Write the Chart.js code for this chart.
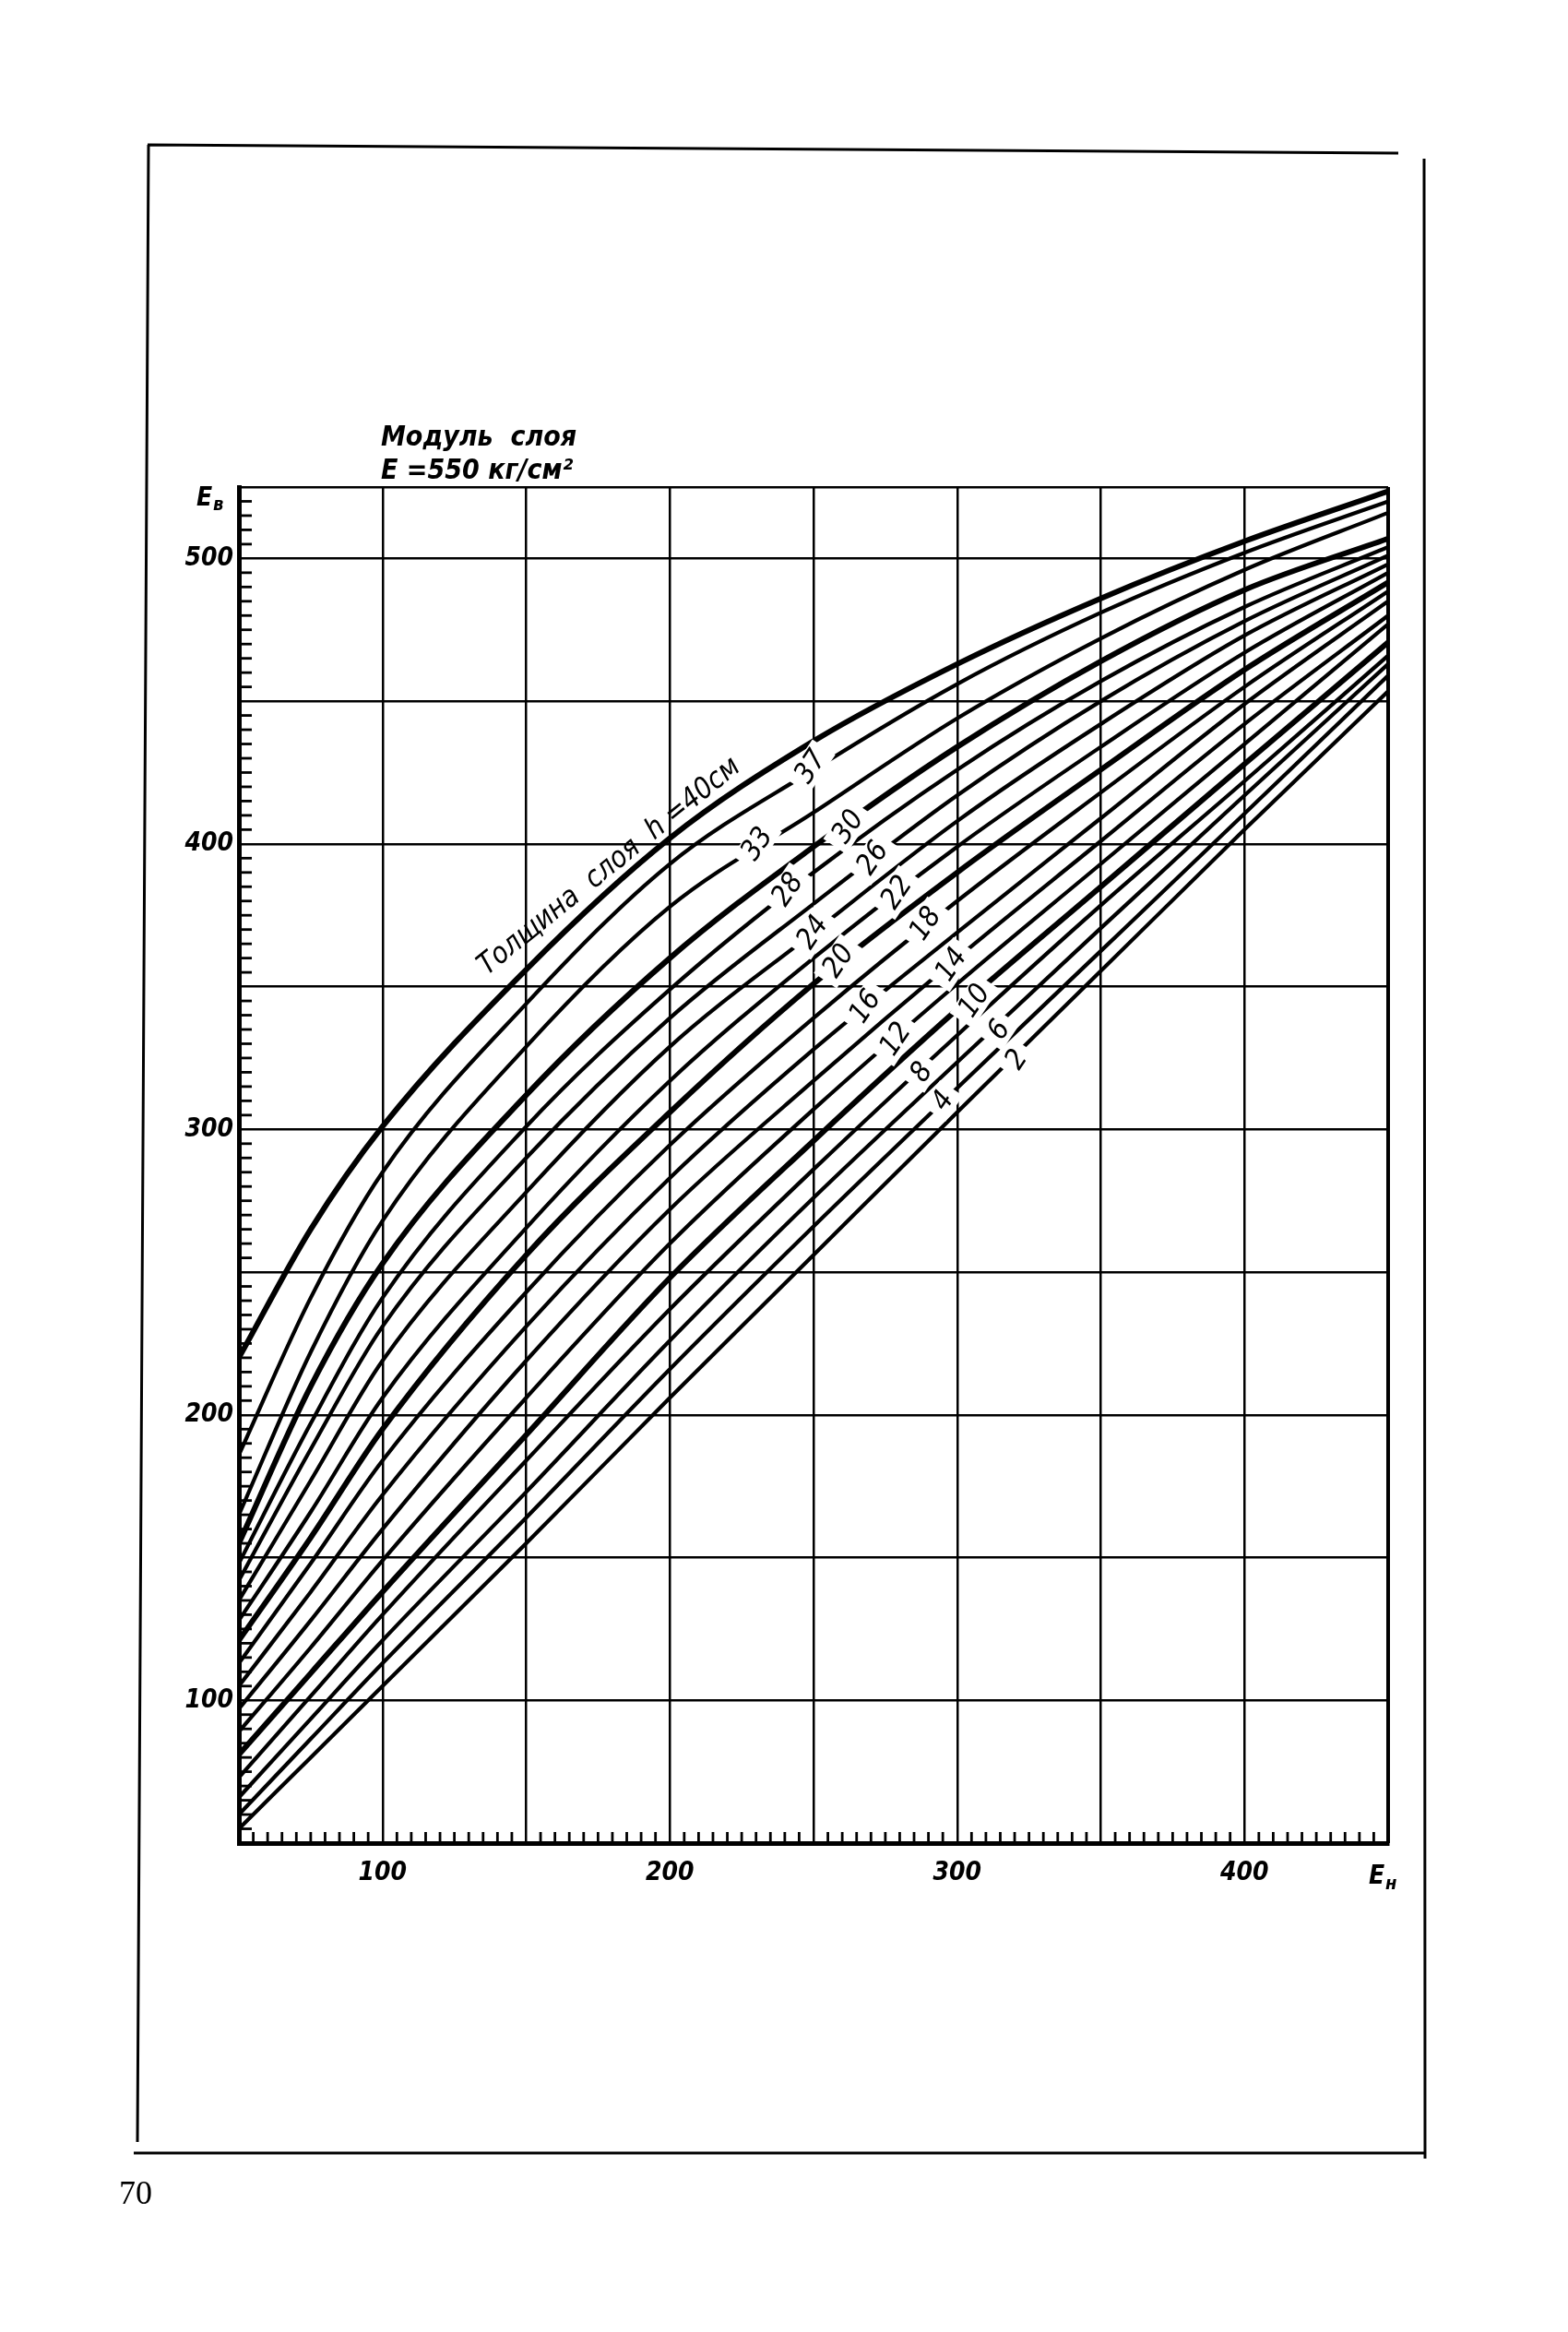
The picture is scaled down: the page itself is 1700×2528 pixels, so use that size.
<!DOCTYPE html>
<html>
<head>
<meta charset="utf-8">
<script src="https://cdn.jsdelivr.net/npm/chart.js@4.4.1/dist/chart.umd.min.js"></script>
<style>
  html, body { margin: 0; padding: 0; background: #fff; }
  #wrap { position: relative; width: 1700px; height: 2528px; }
  canvas { position: absolute; left: 0; top: 0; }
</style>
</head>
<body>
<div id="wrap"><canvas id="chart" width="1700" height="2528"></canvas></div>
<script>
// ========================================
// DATA
// ========================================

// E_n values where every curve was read
const enPoints = [50, 75, 100, 150, 200, 250, 300, 350, 400, 450];

// E_b for each layer thickness h (cm)
const h2  = [55, 80, 105, 155, 206, 256, 306, 355.5, 405, 453.5];
const h4  = [60, 86.5, 113, 164, 216, 266, 314.5, 362.5, 410.6, 459];
const h6  = [66, 93.5, 121, 173, 226, 276, 323.5, 370.5, 417, 463];
const h8  = [73, 101.5, 130, 184, 237, 286, 333, 378.5, 422, 466];
const h10 = [81, 109.5, 138, 193, 248, 296, 342, 385, 428, 470.6];
const h12 = [89, 118.5, 149, 206, 260, 307, 351, 393, 435, 477];
const h14 = [97, 128, 160, 219, 272, 317, 360, 401, 442, 480];
const h16 = [105, 138, 172, 231, 283, 328, 369, 409, 449, 485];
const h18 = [113, 148, 184, 243, 294.5, 339, 380, 418, 455, 488.5];
const h20 = [121, 157, 195, 256, 306, 351, 390, 426, 461, 491.6];
const h22 = [128, 166, 206, 265.5, 317, 360, 399, 434, 467, 495];
const h24 = [135, 177, 219, 278, 329, 369, 408, 442, 473, 498];
const h26 = [142, 188, 231, 290, 339, 379, 417, 450, 478, 501];
const h28 = [148, 197, 241, 301, 349, 390, 426, 457, 483, 504];
const h30 = [155, 210, 253, 312, 360, 399, 434, 464, 489, 507];
const h33 = [165, 222, 268, 329, 378, 411, 444, 472, 496, 516];
const h37 = [186, 241, 285, 344, 393, 426, 456, 481, 502, 520];
const h40 = [220, 265, 301, 356, 402, 436, 463, 486, 506, 523.5];

const thickness = [2, 4, 6, 8, 10, 12, 14, 16, 18, 20, 22, 24, 26, 28, 30, 33, 37, 40];
const curves = [h2, h4, h6, h8, h10, h12, h14, h16, h18, h20, h22, h24, h26, h28, h30, h33, h37, h40];
const boldCurves = [10, 20, 30, 40];

// tick labels
const xTickLabels = [100, 200, 300, 400];
const yTickLabels = [100, 200, 300, 400, 500];

// curve captions: text, E_n, E_b where the caption sits on its curve
const capText = ['37', '33', '30', '28', '26', '24', '22', '20', '18', '16', '14', '12', '10', '8', '6', '4', '2'];
const capEn   = [249, 230.4, 262, 241, 270.6, 249.7, 279, 258.7, 289, 268, 298, 278.6, 306, 287.6, 314.6, 295, 320.7];
const capEb   = [427, 400, 406, 384, 395, 369, 383, 359, 372, 343, 357.7, 331.6, 345, 320, 334.8, 310, 324.5];

const FONT = '"DejaVu Sans Condensed", "DejaVu Sans", sans-serif';

// ========================================
// PLUGINS
// ========================================

// short inner ticks every 5 units, like the printed scale
const minorTicks = {
    id: 'minorTicks',
    afterDraw(chart) {
        const ctx = chart.ctx;
        const xs = chart.scales.x, ys = chart.scales.y;
        ctx.save();
        ctx.strokeStyle = '#000';
        ctx.lineWidth = 2.8;
        xs.ticks.forEach(t => {
            if (t.value % 50 === 0) return;
            const px = xs.getPixelForValue(t.value);
            ctx.beginPath();
            ctx.moveTo(px, ys.bottom);
            ctx.lineTo(px, ys.bottom - 12);
            ctx.stroke();
        });
        ys.ticks.forEach(t => {
            if (t.value % 50 === 0 || t.value === ys.max) return;
            const py = ys.getPixelForValue(t.value);
            ctx.beginPath();
            ctx.moveTo(xs.left, py);
            ctx.lineTo(xs.left + 14, py);
            ctx.stroke();
        });
        ctx.restore();
    }
};

// numbers written on the curves
const curveCaptions = {
    id: 'curveCaptions',
    afterDatasetsDraw(chart) {
        const ctx = chart.ctx;
        const xs = chart.scales.x, ys = chart.scales.y;
        ctx.save();
        ctx.font = 'italic 31px ' + FONT;
        ctx.textAlign = 'center';
        ctx.textBaseline = 'middle';
        capText.forEach((txt, i) => {
            const px = xs.getPixelForValue(capEn[i]);
            const py = ys.getPixelForValue(capEb[i]);
            const w = ctx.measureText(txt).width;
            ctx.save();
            ctx.translate(px, py);
            ctx.rotate(-56 * Math.PI / 180);
            ctx.fillStyle = '#fff';
            ctx.fillRect(-w / 2 - 8, -15, w + 16, 30);
            ctx.fillStyle = '#000';
            ctx.fillText(txt, 0, 1);
            ctx.restore();
        });

        // caption along the thickest curve
        const px = xs.getPixelForValue(179);
        const py = ys.getPixelForValue(392);
        ctx.save();
        ctx.translate(px, py);
        ctx.rotate(-39 * Math.PI / 180);
        ctx.font = 'italic 32px ' + FONT;
        ctx.textAlign = 'center';
        ctx.textBaseline = 'middle';
        const txt = 'Толщина  слоя  h =40см';
        const w = ctx.measureText(txt).width;
        ctx.scale(355 / w, 1);
        ctx.fillStyle = '#000';
        ctx.fillText(txt, 0, 0);
        ctx.restore();
        ctx.restore();
    }
};

// page furniture: frame, heading, axis names, page number
const pageDecor = {
    id: 'pageDecor',
    afterDraw(chart) {
        const ctx = chart.ctx;
        const area = chart.chartArea;
        ctx.save();
        ctx.strokeStyle = '#000';
        ctx.lineWidth = 3;
        ctx.beginPath();
        ctx.moveTo(160, 157); ctx.lineTo(1516, 166);
        ctx.moveTo(161, 157); ctx.lineTo(149, 2322);
        ctx.moveTo(145, 2334); ctx.lineTo(1545, 2334);
        ctx.moveTo(1544, 172); ctx.lineTo(1545, 2340);
        ctx.stroke();

        // right edge of plot, a bit heavier
        ctx.lineWidth = 4;
        ctx.beginPath();
        ctx.moveTo(area.right, area.top);
        ctx.lineTo(area.right, area.bottom);
        ctx.stroke();

        ctx.fillStyle = '#000';
        ctx.textAlign = 'left';
        ctx.textBaseline = 'alphabetic';
        ctx.font = 'italic bold 30px ' + FONT;
        ctx.fillText('Модуль  слоя', 413, 483);
        ctx.fillText('E =550 кг/см²', 413, 519);

        ctx.font = 'italic bold 28px ' + FONT;
        ctx.fillText('E', 213, 548);
        ctx.fillText('E', 1484, 2042);
        ctx.font = 'italic bold 20px ' + FONT;
        ctx.fillText('в', 231, 553);
        ctx.fillText('н', 1502, 2048);

        ctx.font = '36px "Liberation Serif", serif';
        ctx.fillText('70', 129, 2389);
        ctx.restore();
    }
};

// ========================================
// CHART
// ========================================

function buildDatasets() {
    return curves.map((vals, i) => ({
        label: 'h=' + thickness[i],
        data: enPoints.map((en, j) => ({ x: en, y: vals[j] })),
        borderColor: '#000',
        borderWidth: boldCurves.includes(thickness[i]) ? 6 : 4.2,
        pointRadius: 0,
        cubicInterpolationMode: 'monotone',
        borderCapStyle: 'round',
        borderJoinStyle: 'round',
        fill: false
    }));
}

function initChart() {
    const ctx = document.getElementById('chart').getContext('2d');
    const tickFont = { family: FONT, size: 28, style: 'italic', weight: 'bold' };

    new Chart(ctx, {
        type: 'line',
        data: { datasets: buildDatasets() },
        options: {
            responsive: false,
            animation: false,
            devicePixelRatio: 1,
            layout: { padding: { left: 0, top: 528, right: 195, bottom: 460 } },
            plugins: {
                legend: { display: false },
                tooltip: { enabled: false }
            },
            scales: {
                x: {
                    type: 'linear',
                    min: 50,
                    max: 450,
                    afterFit: s => { s.height = 70; },
                    ticks: {
                        stepSize: 5,
                        autoSkip: false,
                        maxRotation: 0,
                        padding: 16,
                        color: '#000',
                        font: tickFont,
                        callback: v => xTickLabels.includes(v) ? String(v) : ''
                    },
                    grid: {
                        drawTicks: false,
                        lineWidth: 2.5,
                        color: c => (c.tick && c.tick.value % 50 === 0) ? '#000' : 'rgba(0,0,0,0)'
                    },
                    border: { display: true, color: '#000', width: 5 }
                },
                y: {
                    type: 'linear',
                    min: 50,
                    max: 525,
                    afterFit: s => { s.width = 259; },
                    ticks: {
                        stepSize: 5,
                        autoSkip: false,
                        padding: 6,
                        color: '#000',
                        font: tickFont,
                        callback: v => yTickLabels.includes(v) ? String(v) : ''
                    },
                    grid: {
                        drawTicks: false,
                        lineWidth: 2.5,
                        color: c => (c.tick && (c.tick.value % 50 === 0 || c.tick.value === 525)) ? '#000' : 'rgba(0,0,0,0)'
                    },
                    border: { display: true, color: '#000', width: 5 }
                }
            }
        },
        plugins: [minorTicks, curveCaptions, pageDecor]
    });
}

initChart();
</script>
</body>
</html>
